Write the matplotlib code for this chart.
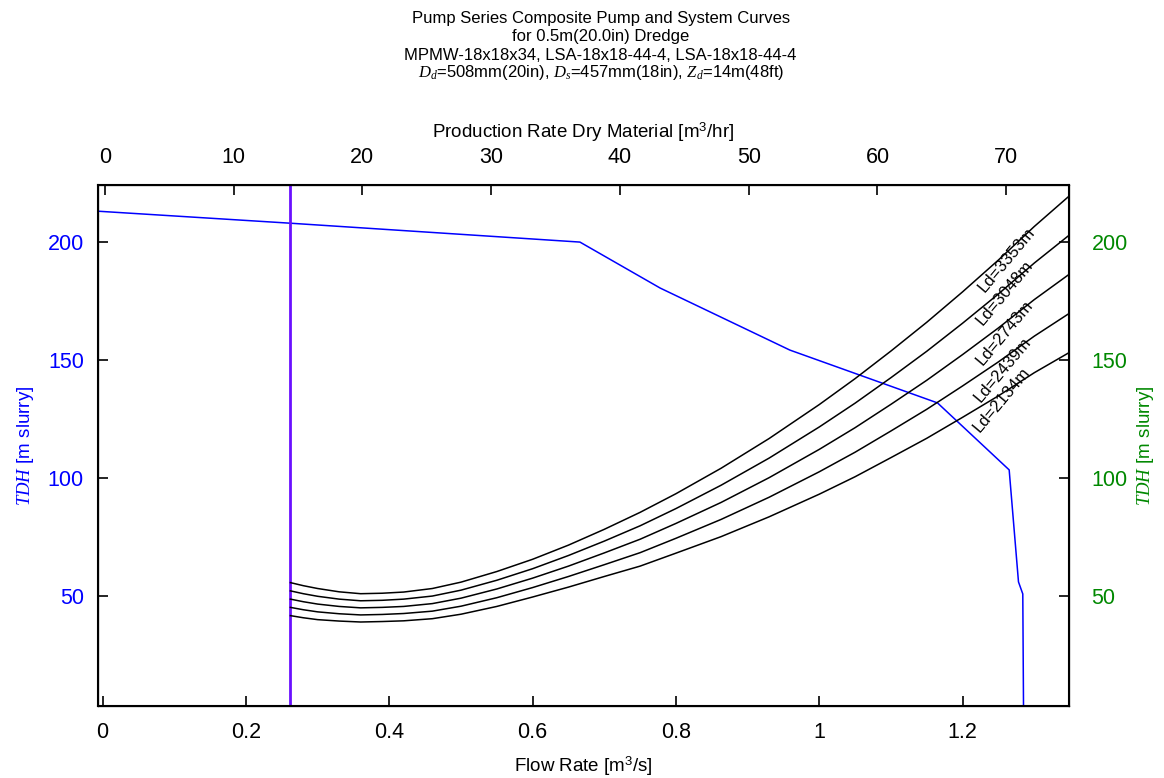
import matplotlib
matplotlib.use('Agg')
import matplotlib.pyplot as plt

plt.rcParams['font.family'] = ['Liberation Sans', 'DejaVu Sans']
plt.rcParams['mathtext.fontset'] = 'custom'
plt.rcParams['mathtext.rm'] = 'Liberation Sans'
plt.rcParams['mathtext.it'] = 'Liberation Serif:italic'

# pump curve (composite), flow m3/s vs TDH m slurry
pump_q = [-0.007, 0.262, 0.666, 0.778, 0.959, 1.165, 1.265, 1.278, 1.284, 1.285]
pump_h = [213.1, 208.0, 200.0, 180.5, 154.2, 131.8, 103.4, 55.9, 50.8, 3.4]

# minimum flow line
q_min = 0.262

# system curves for several discharge line lengths
sys_q = [0.262, 0.28, 0.30, 0.33, 0.36, 0.39, 0.42, 0.46, 0.50, 0.55, 0.60, 0.65, 0.70,
         0.75, 0.80, 0.863, 0.93, 1.0, 1.05, 1.1, 1.15, 1.2, 1.25, 1.30, 1.349]
sys_labels = ['Ld=3353m', 'Ld=3048m', 'Ld=2743m', 'Ld=2439m', 'Ld=2134m']
h_3353 = [55.6, 54.3, 53.1, 51.7, 50.9, 51.1, 51.6, 53.1, 55.8, 60.3, 65.5, 71.5, 78.2,
          85.4, 93.3, 104.1, 116.7, 131.1, 142.1, 153.8, 166.0, 178.9, 192.4, 206.6, 219.6]
h_3048 = [52.1, 50.9, 49.8, 48.6, 47.9, 48.1, 48.6, 49.9, 52.4, 56.6, 61.5, 67.1, 73.2,
          79.7, 87.0, 96.9, 108.4, 121.6, 131.7, 142.5, 153.7, 165.6, 178.0, 191.1, 203.0]
h_2743 = [48.6, 47.5, 46.5, 45.5, 44.9, 45.1, 45.5, 46.7, 49.0, 52.9, 57.5, 62.6, 68.2,
          74.0, 80.7, 89.6, 100.1, 112.1, 121.3, 131.2, 141.4, 152.3, 163.6, 175.6, 186.4]
h_2439 = [45.1, 44.1, 43.2, 42.4, 41.9, 42.1, 42.5, 43.5, 45.6, 49.2, 53.5, 58.2, 63.2,
          68.3, 74.4, 82.4, 91.8, 102.6, 110.9, 119.9, 129.1, 139.0, 149.2, 160.1, 169.8]
h_2134 = [41.6, 40.7, 39.9, 39.3, 38.9, 39.1, 39.4, 40.3, 42.2, 45.5, 49.5, 53.7, 58.2,
          62.6, 68.1, 75.1, 83.5, 93.1, 100.5, 108.6, 116.8, 125.7, 134.8, 144.6, 153.2]
sys_h = [h_3353, h_3048, h_2743, h_2439, h_2134]
label_q = [1.261, 1.259, 1.259, 1.256, 1.254]
label_h = [192.4, 178.4, 161.4, 145.8, 133.1]

title_lines = [
    'Pump Series Composite Pump and System Curves',
    'for 0.5m(20.0in) Dredge',
    'MPMW-18x18x34, LSA-18x18-44-4, LSA-18x18-44-4',
    r'$D_d$=508mm(20in), $D_s$=457mm(18in), $Z_d$=14m(48ft)',
]
title_y = [18, 37, 55, 73]

blue = '#0000ff'
green = '#008800'

fig = plt.figure(figsize=(11.64, 7.78), dpi=100)
ax = fig.add_axes([0.0839, 0.0929, 0.9187 - 0.0839, 0.7622 - 0.0929])

ax.plot(pump_q, pump_h, color=blue, lw=1.1)
ax.axvline(q_min, color='#6a10ff', lw=2)
for h in sys_h:
    ax.plot(sys_q, h, color='black', lw=1.1)
for lab, x, y in zip(sys_labels, label_q, label_h):
    ax.text(x, y, lab, rotation=50, ha='center', va='center', fontsize=12,
            rotation_mode='anchor')

ax.set_xlim(-0.007, 1.349)
ax.set_ylim(3.4, 224.2)
ax.set_xticks([0, 0.2, 0.4, 0.6, 0.8, 1.0, 1.2])
ax.set_xticklabels(['0', '0.2', '0.4', '0.6', '0.8', '1', '1.2'])
ax.set_yticks([50, 100, 150, 200])
ax.tick_params(axis='x', direction='in', length=7, width=1.2, labelsize=15.5, pad=12)
ax.tick_params(axis='y', direction='in', length=7, width=1.2, labelsize=15.5,
               labelcolor=blue, pad=10)
ax.set_xlabel('Flow Rate [m$^3$/s]', fontsize=13.5, labelpad=8)
ax.set_ylabel(r'$TDH$ [m slurry]', fontsize=13.5, color=blue, labelpad=8)
for s in ax.spines.values():
    s.set_linewidth(1.5)

ax2 = ax.twinx()
ax2.set_ylim(ax.get_ylim())
ax2.set_yticks([50, 100, 150, 200])
ax2.tick_params(axis='y', direction='in', length=7, width=1.2, labelsize=15.5,
                labelcolor=green, pad=16)
ax2.set_ylabel(r'$TDH$ [m slurry]', fontsize=13.5, color=green, labelpad=5)

ax3 = ax.twiny()
ax3.set_xlim(-0.55, 74.9)
ax3.set_xticks([0, 10, 20, 30, 40, 50, 60, 70])
ax3.tick_params(axis='x', direction='in', length=7, width=1.2, labelsize=15.5, pad=12)
ax3.set_xlabel('Production Rate Dry Material [m$^3$/hr]', fontsize=13.5, labelpad=7)

for line, y in zip(title_lines, title_y):
    fig.text(0.516, 1 - y / 778, line, ha='center', va='center', fontsize=12)

fig.savefig('out.png', dpi=100)
